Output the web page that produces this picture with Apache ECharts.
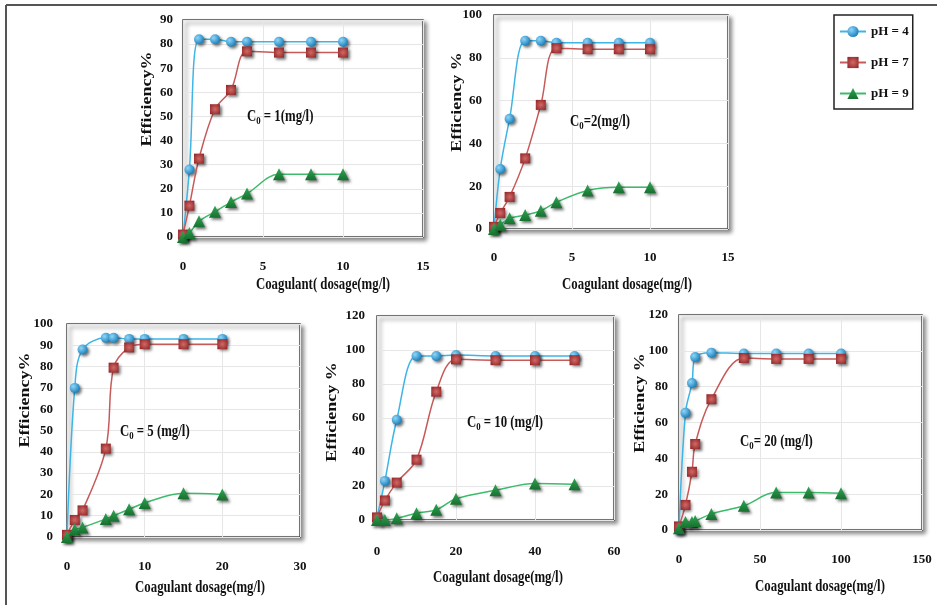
<!DOCTYPE html>
<html>
<head>
<meta charset="utf-8">
<script src="https://cdn.jsdelivr.net/npm/echarts@6/dist/echarts.min.js"></script>
<style>
  html, body { margin: 0; padding: 0; background: #fff; }
  #chart { width: 937px; height: 605px; }
</style>
</head>
<body>
<div id="chart"></div>
<script>
  // coagulant dosage (mg/l) per initial concentration
  const doseC1 = [0, 0.4, 1, 2, 3, 4, 6, 8, 10]
  const doseC2 = [0, 0.4, 1, 2, 3, 4, 6, 8, 10]
  const doseC5 = [0, 1, 2, 5, 6, 8, 10, 15, 20]
  const doseC10 = [0, 2, 5, 10, 15, 20, 30, 40, 50]
  const doseC20 = [0, 4, 8, 10, 20, 40, 60, 80, 100]

  // removal efficiency %
  const c1pH4 = [0, 28, 82, 82, 81, 81, 81, 81, 81]
  const c1pH7 = [1, 13, 32.5, 53, 61, 77, 76.5, 76.5, 76.5]
  const c1pH9 = [0, 1.7, 6.5, 10.5, 14.5, 18, 26, 26, 26]

  const c2pH4 = [0, 28, 51.5, 88, 88, 87, 87, 87, 87]
  const c2pH7 = [1, 7.5, 15, 33, 58, 84.5, 84, 84, 84]
  const c2pH9 = [0, 2, 5, 6.5, 8.5, 12.5, 18, 19.5, 19.5]

  const c5pH4 = [0, 70, 88, 93.5, 93.5, 93, 93, 93, 93]
  const c5pH7 = [1, 8, 12.5, 41.5, 79.5, 89, 90.5, 90.5, 90.5]
  const c5pH9 = [0, 3.5, 4.5, 8.5, 10, 13, 16, 20.5, 20]

  const c10pH4 = [1.5, 23, 59, 96.5, 96.5, 97, 96.5, 96.5, 96.5]
  const c10pH7 = [1.5, 11.5, 22, 35.5, 75.5, 94.5, 94, 94, 94]
  const c10pH9 = [0, 0, 1, 4, 6, 12.5, 17.5, 21.5, 21]

  const c20pH4 = [0, 65.5, 82, 96.5, 99, 98.5, 98.5, 98.5, 98.5]
  const c20pH7 = [2, 14, 32.5, 48, 73, 96, 95.5, 95.5, 95.5]
  const c20pH9 = [1, 4.5, 4.5, 5, 9, 13.5, 21, 21, 20.5]

  const phNames = ['pH = 4', 'pH = 7', 'pH = 9']
  const annotations = ['1(mg/l)', '2(mg/l)', '5 (mg/l)', '10 (mg/l)', '20 (mg/l)']
  const xTitles = ['Coagulant( dosage(mg/l)', 'Coagulant dosage(mg/l)', 'Coagulant dosage(mg/l)',
    'Coagulant dosage(mg/l)', 'Coagulant dosage(mg/l)']
  const yTitles = ['Efficiency%', 'Efficiency %', 'Efficiency%', 'Efficiency %', 'Efficiency %']

  const panels = [
    { dose: doseC1, ys: [c1pH4, c1pH7, c1pH9], xMax: 15, xInt: 5, yMax: 90, yInt: 10,
      grid: [183, 20, 240, 217], xMargin: 23, yMargin: 10,
      xt: [323, 285], yt: [147, 99], ann: [247, 117], annSep: ' = ' },
    { dose: doseC2, ys: [c2pH4, c2pH7, c2pH9], xMax: 15, xInt: 5, yMax: 100, yInt: 20,
      grid: [494, 15, 234, 214], xMargin: 22, yMargin: 12,
      xt: [627, 285], yt: [457, 102], ann: [570, 122], annSep: '=' },
    { dose: doseC5, ys: [c5pH4, c5pH7, c5pH9], xMax: 30, xInt: 10, yMax: 100, yInt: 10,
      grid: [67, 324, 233, 213], xMargin: 23, yMargin: 14,
      xt: [200, 588], yt: [25, 400], ann: [120, 432], annSep: ' = ' },
    { dose: doseC10, ys: [c10pH4, c10pH7, c10pH9], xMax: 60, xInt: 20, yMax: 120, yInt: 20,
      grid: [377, 316, 237, 204], xMargin: 25, yMargin: 12,
      xt: [498, 578], yt: [332, 412], ann: [467, 423], annSep: ' = ' },
    { dose: doseC20, ys: [c20pH4, c20pH7, c20pH9], xMax: 150, xInt: 50, yMax: 120, yInt: 20,
      grid: [679, 315, 243, 215], xMargin: 23, yMargin: 11,
      xt: [820, 587], yt: [640, 403], ann: [740, 442], annSep: '= ' }
  ]

  const FONT = '"Liberation Serif", "Times New Roman", serif'
  const lineColors = ['#3db5e6', '#c65a58', '#3dbb6a']
  const markers = ['circle', 'rect', 'triangle']
  const markerSizes = [10, 10, 12]
  const markerFills = [
    new echarts.graphic.RadialGradient(0.35, 0.35, 0.75, [
      { offset: 0, color: '#8fd6f7' }, { offset: 1, color: '#0f78b8' }]),
    new echarts.graphic.RadialGradient(0.5, 0.5, 0.7, [
      { offset: 0, color: '#d06a66' }, { offset: 1, color: '#8e1f22' }]),
    new echarts.graphic.LinearGradient(0, 0, 0, 1, [
      { offset: 0, color: '#2fa653' }, { offset: 1, color: '#17702f' }])
  ]

  const grids = []
  const xAxes = []
  const yAxes = []
  const series = []
  const graphics = []

  panels.forEach((p, i) => {
    grids.push({
      left: p.grid[0], top: p.grid[1], width: p.grid[2], height: p.grid[3],
      show: true, backgroundColor: '#fff', borderColor: '#4a4a4a', borderWidth: 1.5,
      shadowColor: 'rgba(0,0,0,0.45)', shadowBlur: 4, shadowOffsetX: 3, shadowOffsetY: 3
    })
    xAxes.push({
      type: 'value', gridIndex: i, min: 0, max: p.xMax, interval: p.xInt,
      axisLine: { show: false }, axisTick: { show: false },
      splitLine: { lineStyle: { color: '#e6e6e6' } },
      axisLabel: { margin: p.xMargin, fontFamily: FONT, fontWeight: 'bold', fontSize: 13, color: '#111' }
    })
    yAxes.push({
      type: 'value', gridIndex: i, min: 0, max: p.yMax, interval: p.yInt,
      axisLine: { show: false }, axisTick: { show: false },
      splitLine: { lineStyle: { color: '#e6e6e6' } },
      axisLabel: { margin: p.yMargin, fontFamily: FONT, fontWeight: 'bold', fontSize: 13, color: '#111' }
    })
    p.ys.forEach((vals, k) => {
      series.push({
        name: phNames[k], type: 'line', xAxisIndex: i, yAxisIndex: i,
        data: p.dose.map((d, j) => [d, vals[j]]),
        smooth: 0.35,
        symbol: markers[k], symbolSize: markerSizes[k],
        lineStyle: { color: lineColors[k], width: 1.5 },
        itemStyle: {
          color: markerFills[k], opacity: 1,
          shadowColor: 'rgba(0,0,0,0.55)', shadowBlur: 3, shadowOffsetX: 2, shadowOffsetY: 2
        },
        emphasis: { disabled: true },
        z: 2 + k
      })
    })

    // axis titles
    graphics.push({
      type: 'text', x: p.xt[0], y: p.xt[1], scaleX: 0.8, z: 100,
      style: { text: xTitles[i], font: 'bold 16px ' + FONT, fill: '#111', align: 'center', verticalAlign: 'middle' }
    })
    graphics.push({
      type: 'text', x: p.yt[0], y: p.yt[1], rotation: Math.PI / 2, scaleY: 0.8, z: 100,
      style: { text: yTitles[i], font: 'bold 18px ' + FONT, fill: '#111', align: 'center', verticalAlign: 'middle' }
    })
    // C0 annotation
    graphics.push({
      type: 'text', x: p.ann[0], y: p.ann[1], scaleX: 0.8, z: 100,
      style: {
        text: '{c|C}{s|0}{c|' + p.annSep + annotations[i] + '}',
        align: 'left', verticalAlign: 'middle', fill: '#111',
        rich: {
          c: { fontFamily: FONT, fontWeight: 'bold', fontSize: 16, fill: '#111', lineHeight: 18 },
          s: { fontFamily: FONT, fontWeight: 'bold', fontSize: 11, fill: '#111', lineHeight: 18, padding: [8, 0, 0, 0] }
        }
      }
    })
  })

  // outer frame of the figure
  graphics.push({ type: 'line', z: 100, shape: { x1: 6, y1: 5, x2: 937, y2: 5 }, style: { stroke: '#555', lineWidth: 2 } })
  graphics.push({ type: 'line', z: 100, shape: { x1: 6, y1: 5, x2: 6, y2: 605 }, style: { stroke: '#555', lineWidth: 2 } })

  const chart = echarts.init(document.getElementById('chart'))
  chart.setOption({
    backgroundColor: '#fff',
    animation: false,
    legend: {
      data: phNames, orient: 'vertical', left: 834, top: 15,
      padding: [10, 4, 9, 5], itemGap: 18, itemWidth: 26, itemHeight: 14,
      borderColor: '#222', borderWidth: 1.5, backgroundColor: '#fff',
      textStyle: { fontFamily: FONT, fontWeight: 'bold', fontSize: 13, color: '#111' }
    },
    grid: grids,
    xAxis: xAxes,
    yAxis: yAxes,
    series: series,
    graphic: graphics
  })
</script>
</body>
</html>
